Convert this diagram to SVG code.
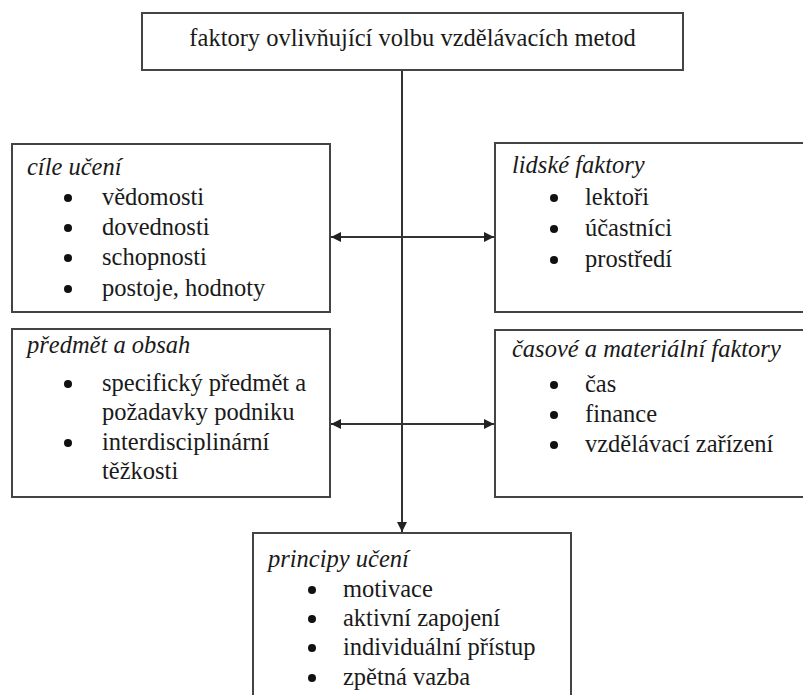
<svg xmlns="http://www.w3.org/2000/svg" width="803" height="695" viewBox="0 0 803 695">
<style>
  .box { fill: #ffffff; stroke: #444; stroke-width: 2; }
  .t { font-family: "Liberation Serif", serif; font-size: 24.5px; fill: #1a1a1a; }
  .h { font-family: "Liberation Serif", serif; font-size: 24.5px; font-style: italic; fill: #1a1a1a; }
  .b { fill: #111; }
  .c { stroke: #333; stroke-width: 2; fill: none; }
</style>
<defs>
  <marker id="ah" viewBox="0 0 10 10" refX="10" refY="5" markerWidth="5" markerHeight="5" orient="auto-start-reverse" markerUnits="strokeWidth">
    <path d="M0,0 L10,5 L0,10 z" fill="#222"/>
  </marker>
</defs>
<rect width="803" height="695" fill="#ffffff"/>

<g id="connectors">
  <line class="c" x1="402" y1="70" x2="402" y2="532" marker-end="url(#ah)"/>
  <line class="c" x1="331" y1="237" x2="494" y2="237" marker-start="url(#ah)" marker-end="url(#ah)"/>
  <line class="c" x1="331" y1="424" x2="494" y2="424" marker-start="url(#ah)" marker-end="url(#ah)"/>
</g>

<g id="top">
  <rect class="box" x="142" y="13" width="541" height="57"/>
  <text class="t" x="412.5" y="46" text-anchor="middle">faktory ovlivňující volbu vzdělávacích metod</text>
</g>

<g id="cile">
  <rect class="box" x="12" y="144" width="318" height="168"/>
  <text class="h" x="27" y="175">cíle učení</text>
  <circle class="b" cx="68" cy="198" r="4"/>
  <circle class="b" cx="68" cy="228" r="4"/>
  <circle class="b" cx="68" cy="258" r="4"/>
  <circle class="b" cx="68" cy="289" r="4"/>
  <text class="t" x="102" y="205">vědomosti</text>
  <text class="t" x="102" y="235">dovednosti</text>
  <text class="t" x="102" y="265">schopnosti</text>
  <text class="t" x="102" y="296">postoje, hodnoty</text>
</g>

<g id="lidske">
  <rect class="box" x="495" y="143" width="320" height="169"/>
  <text class="h" x="512" y="173">lidské faktory</text>
  <circle class="b" cx="554" cy="198" r="4"/>
  <circle class="b" cx="554" cy="229" r="4"/>
  <circle class="b" cx="554" cy="260" r="4"/>
  <text class="t" x="585" y="205">lektoři</text>
  <text class="t" x="585" y="236">účastníci</text>
  <text class="t" x="585" y="267">prostředí</text>
</g>

<g id="predmet">
  <rect class="box" x="12" y="329" width="318" height="168"/>
  <text class="h" x="27" y="353">předmět a obsah</text>
  <circle class="b" cx="68" cy="384" r="4"/>
  <circle class="b" cx="68" cy="443" r="4"/>
  <text class="t" x="102" y="391">specifický předmět a</text>
  <text class="t" x="102" y="420">požadavky podniku</text>
  <text class="t" x="102" y="450">interdisciplinární</text>
  <text class="t" x="102" y="479">těžkosti</text>
</g>

<g id="casove">
  <rect class="box" x="495" y="330" width="320" height="167"/>
  <text class="h" x="512" y="357">časové a materiální faktory</text>
  <circle class="b" cx="554" cy="385" r="4"/>
  <circle class="b" cx="554" cy="415" r="4"/>
  <circle class="b" cx="554" cy="445" r="4"/>
  <text class="t" x="585" y="392">čas</text>
  <text class="t" x="585" y="422">finance</text>
  <text class="t" x="585" y="452">vzdělávací zařízení</text>
</g>

<g id="principy">
  <rect class="box" x="253" y="533" width="318" height="175"/>
  <text class="h" x="268" y="567">principy učení</text>
  <circle class="b" cx="312" cy="590" r="4"/>
  <circle class="b" cx="312" cy="619" r="4"/>
  <circle class="b" cx="312" cy="648" r="4"/>
  <circle class="b" cx="312" cy="678" r="4"/>
  <text class="t" x="343" y="597">motivace</text>
  <text class="t" x="343" y="626">aktivní zapojení</text>
  <text class="t" x="343" y="655">individuální přístup</text>
  <text class="t" x="343" y="685">zpětná vazba</text>
</g>
</svg>
